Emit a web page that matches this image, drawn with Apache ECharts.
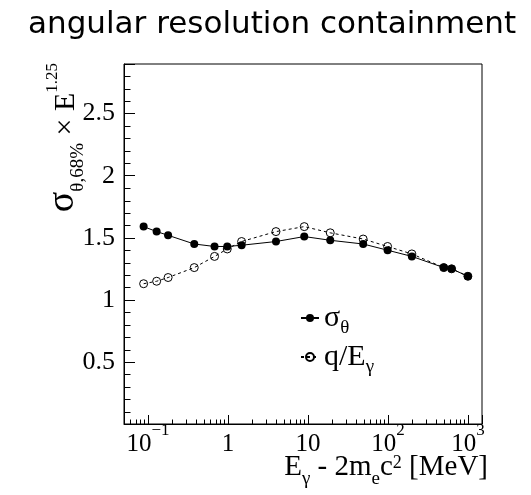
<!DOCTYPE html>
<html>
<head>
<meta charset="utf-8">
<script src="https://cdn.jsdelivr.net/npm/echarts@6/dist/echarts.min.js"></script>
<style>
  html, body { margin: 0; padding: 0; background: #fff; }
  #chart { width: 531px; height: 495px; }
</style>
</head>
<body>
<div id="chart"></div>
<script>
// Photon energy above the pair-production threshold, E_gamma - 2 m_e c^2 [MeV]
const energies = [0.088, 0.128, 0.178, 0.378, 0.678, 0.978, 1.478, 3.978, 8.978,
                  18.98, 48.98, 98.98, 198.98, 498.98, 625, 998.98];
// 68% containment angle, scaled by E^1.25
const sigmaTheta = [1.59, 1.55, 1.52, 1.45, 1.43, 1.43, 1.44, 1.47, 1.51,
                    1.48, 1.45, 1.40, 1.35, 1.26, 1.25, 1.19];
// q / E_gamma estimator, same scaling
const qOverE = [1.13, 1.15, 1.18, 1.26, 1.35, 1.41, 1.47, 1.55, 1.59,
                1.54, 1.49, 1.43, 1.37, 1.26, 1.25, 1.19];

// Axis tick labels (log-axis decades and linear-axis values)
const xTickLabels = { '-1': '{m|10}{sup|−1}', '0': '{m|1}', '1': '{m|10}', '2': '{m|10}{sup|2}', '3': '{m|10}{sup|3}' };
const yTickLabels = ['0.5', '1', '1.5', '2', '2.5'];

const X_MIN = 0.05, X_MAX = 1500, Y_MIN = 0, Y_MAX = 2.9;
const SERIF = '"Liberation Serif", "DejaVu Serif", serif';

// Minor tick positions: 2..9 x 10^k on the log axis, 0.1 steps on the linear axis
const xMinor = [];
for (let k = -2; k <= 3; k++) {
  for (let m = 2; m <= 9; m++) {
    const v = m * Math.pow(10, k);
    if (v > X_MIN && v < X_MAX) xMinor.push([v, Y_MIN]);
  }
}
const yMinor = [];
for (let i = 1; i < 29; i++) {
  if (i % 5 !== 0) yMinor.push([X_MIN, i / 10]);
}

function tickRenderer(dx, dy) {
  return function (params, api) {
    const p = api.coord([api.value(0), api.value(1)]);
    const x = Math.round(p[0]) + 0.5, y = Math.round(p[1]) + 0.5;
    return {
      type: 'line',
      shape: { x1: x, y1: y, x2: x + dx, y2: y + dy },
      style: { stroke: '#000', lineWidth: 1 }
    };
  };
}

const chart = echarts.init(document.getElementById('chart'), null, { renderer: 'canvas' });
chart.setOption({
  animation: false,
  backgroundColor: '#fff',
  title: {
    text: 'angular resolution containment',
    left: 23, top: 4,
    textStyle: { fontFamily: '"DejaVu Sans", sans-serif', fontSize: 31, fontWeight: 'normal', color: '#000' }
  },
  grid: {
    left: 124, right: 49, top: 64, bottom: 71,
    show: true, borderColor: '#000', borderWidth: 1, backgroundColor: 'transparent'
  },
  xAxis: {
    type: 'log', logBase: 10, min: X_MIN, max: X_MAX,
    axisLine: { lineStyle: { color: '#000', width: 1 } },
    axisTick: { show: true, inside: true, length: 9, lineStyle: { color: '#000' } },
    splitLine: { show: false },
    axisLabel: {
      margin: -2,
      formatter: function (v) {
        const e = Math.log10(v);
        const r = Math.round(e);
        if (Math.abs(e - r) < 1e-6 && xTickLabels[String(r)] !== undefined) {
          return xTickLabels[String(r)];
        }
        return '';
      },
      rich: {
        m:   { fontFamily: SERIF, fontSize: 25, lineHeight: 44, verticalAlign: 'middle', color: '#000' },
        sup: { fontFamily: SERIF, fontSize: 17, lineHeight: 17, verticalAlign: 'top', color: '#000' }
      }
    }
  },
  yAxis: {
    type: 'value', min: Y_MIN, max: Y_MAX, interval: 0.5,
    axisLine: { show: true, lineStyle: { color: '#000', width: 1 } },
    axisTick: { show: true, inside: true, length: 11, lineStyle: { color: '#000' } },
    splitLine: { show: false },
    axisLabel: {
      margin: 9,
      fontFamily: SERIF, fontSize: 26, color: '#000',
      formatter: function (v) {
        const s = String(Math.round(v * 10) / 10);
        return yTickLabels.indexOf(s) >= 0 ? s : '';
      }
    }
  },
  legend: {
    data: ['sigma', 'q'],
    orient: 'vertical',
    left: 300, top: 303,
    itemWidth: 18, itemHeight: 10, itemGap: 4,
    padding: 0,
    formatter: function (name) {
      return name === 'sigma' ? '{m|σ}{sub|θ}' : '{m|q/E}{sub|γ}';
    },
    textStyle: {
      rich: {
        m:   { fontFamily: SERIF, fontSize: 30, lineHeight: 40, verticalAlign: 'middle', color: '#000' },
        sub: { fontFamily: SERIF, fontSize: 19, lineHeight: 19, verticalAlign: 'bottom', color: '#000' }
      }
    }
  },
  graphic: [
    {
      // vertical axis title
      type: 'text',
      x: 44, y: 63,
      rotation: Math.PI / 2,
      style: {
        text: '{big|σ}{sub|θ,68%}{m| × E}{sup|1.25}',
        align: 'right', verticalAlign: 'top',
        rich: {
          big: { fontFamily: SERIF, fontSize: 38, lineHeight: 38, verticalAlign: 'top', fill: '#000' },
          m:   { fontFamily: SERIF, fontSize: 30, lineHeight: 44, verticalAlign: 'middle', fill: '#000' },
          sub: { fontFamily: SERIF, fontSize: 19, lineHeight: 19, verticalAlign: 'bottom', fill: '#000' },
          sup: { fontFamily: SERIF, fontSize: 17, lineHeight: 17, verticalAlign: 'top', fill: '#000' }
        }
      }
    },
    {
      // horizontal axis title
      type: 'text',
      x: 488, y: 445,
      style: {
        text: '{m|E}{sub|γ}{m| - 2m}{sub|e}{m|c}{sup|2}{m| [MeV]}',
        align: 'right', verticalAlign: 'top',
        rich: {
          m:   { fontFamily: SERIF, fontSize: 29, lineHeight: 44, verticalAlign: 'middle', fill: '#000' },
          sub: { fontFamily: SERIF, fontSize: 19, lineHeight: 19, verticalAlign: 'bottom', fill: '#000' },
          sup: { fontFamily: SERIF, fontSize: 18, lineHeight: 18, verticalAlign: 'top', padding: [9, 0, 0, 0], fill: '#000' }
        }
      }
    }
  ],
  series: [
    {
      name: 'sigma', type: 'line',
      data: energies.map((e, i) => [e, sigmaTheta[i]]),
      symbol: 'circle', symbolSize: 8,
      itemStyle: { color: '#000' },
      lineStyle: { color: '#000', width: 1 },
      z: 3
    },
    {
      name: 'q', type: 'line',
      data: energies.map((e, i) => [e, qOverE[i]]),
      symbol: 'circle', symbolSize: 8,
      itemStyle: { color: 'rgba(255,255,255,0)', borderColor: '#000', borderWidth: 1 },
      lineStyle: { color: '#000', width: 1, type: [3, 3] },
      z: 4
    },
    {
      type: 'custom', name: 'xMinorTicks', silent: true,
      data: xMinor, renderItem: tickRenderer(0, -5), z: 5
    },
    {
      type: 'custom', name: 'yMinorTicks', silent: true,
      data: yMinor, renderItem: tickRenderer(6, 0), z: 5
    }
  ]
});
</script>
</body>
</html>
